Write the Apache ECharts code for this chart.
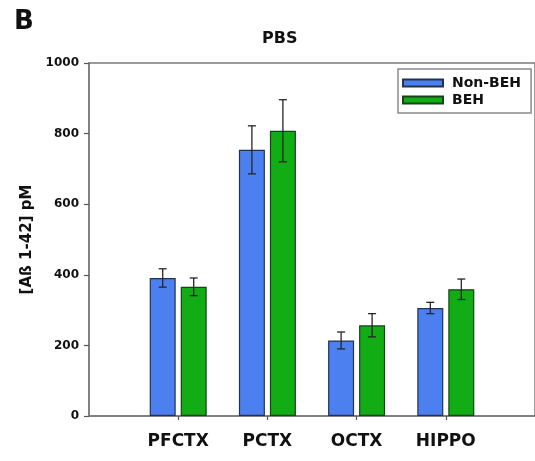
<!DOCTYPE html>
<html>
<head>
<meta charset="utf-8">
<script src="https://cdn.jsdelivr.net/npm/echarts@6/dist/echarts.min.js"></script>
<style>
  html, body { margin: 0; padding: 0; background: #fff; }
  #chart { width: 535px; height: 461px; }
</style>
</head>
<body>
<div id="chart"></div>
<script>
// Aβ 1-42 concentration per brain region, PBS group
const CATEGORIES = ['PFCTX', 'PCTX', 'OCTX', 'HIPPO'];
const NON_BEH = [391, 754, 214, 306];
const NON_BEH_ERR = [26, 68, 24, 16];
const BEH = [366, 808, 257, 359];
const BEH_ERR = [25, 88, 33, 29];
const Y_TICKS = [0, 200, 400, 600, 800, 1000];

const FONT = '"DejaVu Sans", Arial, sans-serif';
const BAR_W = 26;
const BAR_GAP = 5;
const SERIES_NAMES = ['Non-BEH', 'BEH'];
const COLORS = ['#4c80f0', '#12ad14'];
const EDGE = ['#24324f', '#17421a'];

// x positions: category i sits at i + 1 on a 0..5 scale
const pairs = (vals) => vals.map((v, i) => [i + 1, v]);
const triples = (vals, errs) => vals.map((v, i) => [i + 1, v, errs[i]]);

function errorSeries(vals, errs, side) {
  const shift = side * (BAR_W + BAR_GAP) / 2;
  return {
    type: 'custom',
    name: 'err' + side,
    z: 5,
    silent: true,
    data: triples(vals, errs),
    renderItem(params, api) {
      const x = api.value(0), v = api.value(1), e = api.value(2);
      const top = api.coord([x, v + e]);
      const bot = api.coord([x, v - e]);
      const cx = top[0] + shift;
      const cap = 4;
      const style = { stroke: '#262626', lineWidth: 1.3 };
      return {
        type: 'group',
        children: [
          { type: 'line', shape: { x1: cx, y1: top[1], x2: cx, y2: bot[1] }, style },
          { type: 'line', shape: { x1: cx - cap, y1: top[1], x2: cx + cap, y2: top[1] }, style },
          { type: 'line', shape: { x1: cx - cap, y1: bot[1], x2: cx + cap, y2: bot[1] }, style }
        ]
      };
    }
  };
}

const chart = echarts.init(document.getElementById('chart'), null, { renderer: 'canvas' });

chart.setOption({
  animation: false,
  backgroundColor: '#ffffff',
  title: [
    { text: 'B', left: 14, top: 9, padding: 0,
      textStyle: { fontFamily: FONT, fontWeight: 'bold', fontSize: 26, color: '#111' } },
    { text: 'PBS', left: 262, top: 31, padding: 0,
      textStyle: { fontFamily: FONT, fontWeight: 'bold', fontSize: 16, color: '#111' } }
  ],
  legend: {
    data: SERIES_NAMES,
    icon: 'rect',
    orient: 'vertical',
    left: 398,
    top: 69,
    padding: [7, 10, 6, 4],
    itemWidth: 40,
    itemHeight: 7,
    itemGap: 3,
    borderColor: '#8a8a8a',
    borderWidth: 1.5,
    textStyle: { fontFamily: FONT, fontWeight: 'bold', fontSize: 14, color: '#111', padding: [0, 0, 0, 4] }
  },
  grid: {
    left: 89, right: -3, top: 63, bottom: 45,
    show: true, borderColor: '#7a7a7a', borderWidth: 1.5, backgroundColor: 'transparent'
  },
  xAxis: {
    type: 'value',
    min: 0, max: 5, interval: 1,
    splitLine: { show: false },
    axisLine: { show: true, lineStyle: { color: '#7a7a7a', width: 1.5 } },
    axisTick: { show: true, length: 4, customValues: [1, 2, 3, 4], lineStyle: { color: '#555', width: 1.2 } },
    axisLabel: {
      customValues: [1, 2, 3, 4],
      margin: 17,
      formatter: (v) => CATEGORIES[v - 1] || '',
      fontFamily: FONT, fontWeight: 'bold', fontSize: 17, color: '#111'
    }
  },
  yAxis: {
    type: 'value',
    min: Y_TICKS[0], max: Y_TICKS[Y_TICKS.length - 1], interval: 200,
    name: '[Aß 1-42] pM',
    nameLocation: 'middle',
    nameGap: 52,
    nameTextStyle: { fontFamily: FONT, fontWeight: 'bold', fontSize: 15, color: '#111' },
    splitLine: { show: false },
    axisLine: { show: true, lineStyle: { color: '#7a7a7a', width: 1.5 } },
    axisTick: { show: true, length: 5, lineStyle: { color: '#555', width: 1.2 } },
    axisLabel: {
      margin: 10, formatter: (v) => String(v),
      fontFamily: FONT, fontWeight: 'bold', fontSize: 12, color: '#111'
    }
  },
  series: [
    {
      type: 'bar', name: SERIES_NAMES[0],
      data: pairs(NON_BEH),
      barWidth: BAR_W, barGap: (BAR_GAP / BAR_W * 100) + '%',
      itemStyle: { color: COLORS[0], borderColor: EDGE[0], borderWidth: 1.2 }
    },
    {
      type: 'bar', name: SERIES_NAMES[1],
      data: pairs(BEH),
      barWidth: BAR_W, barGap: (BAR_GAP / BAR_W * 100) + '%',
      itemStyle: { color: COLORS[1], borderColor: EDGE[1], borderWidth: 1.2 }
    },
    errorSeries(NON_BEH, NON_BEH_ERR, -1),
    errorSeries(BEH, BEH_ERR, 1)
  ]
});
</script>
</body>
</html>
